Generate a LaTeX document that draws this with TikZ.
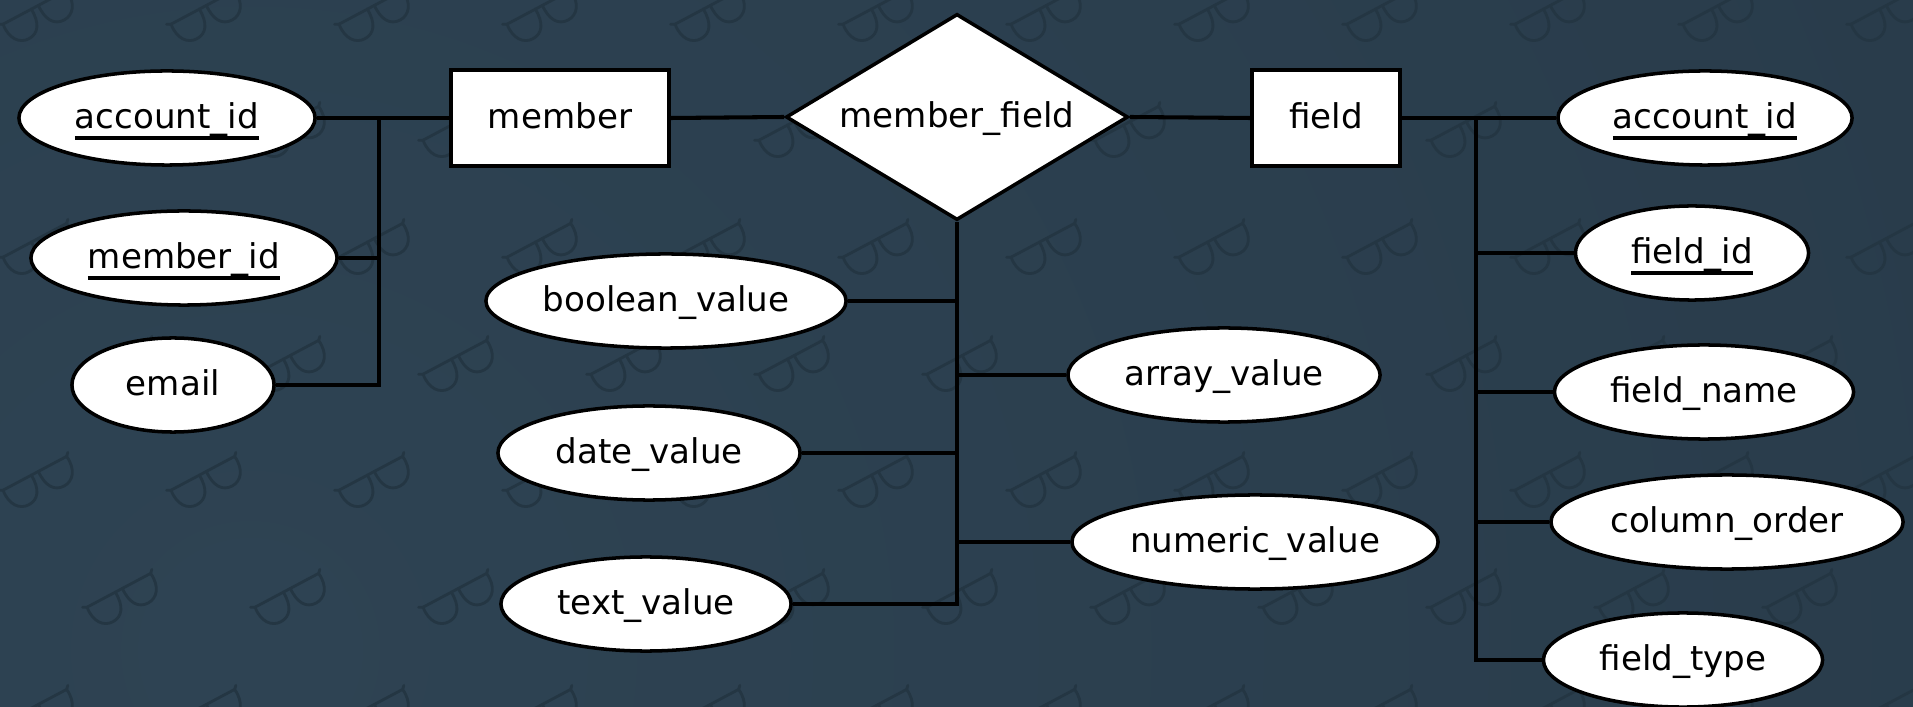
\documentclass[tikz,border=0pt]{standalone}
\usepackage{fontspec}
\setmainfont{DejaVu Sans}
\usetikzlibrary{shapes.geometric}
\definecolor{bgin}{RGB}{46,67,83}
\definecolor{bgout}{RGB}{36,53,67}
\definecolor{glass}{RGB}{36,54,67}
\newcommand\ukey[1]{\setbox0\hbox{#1}\rlap{\smash{\rule[-3.3pt]{\wd0}{1.2pt}}}\box0}
\tikzset{
  lbl/.style={text=black, text height=8pt, text depth=2pt, inner sep=0pt, font=\fontsize{9.7pt}{12pt}\selectfont},
  attr/.style={lbl, ellipse, draw=black, fill=white, line width=1pt, minimum height=0.94cm},
  entity/.style={lbl, rectangle, draw=black, fill=white, line width=1.1pt, minimum height=0.96cm},
  rel/.style={lbl, diamond, draw=black, fill=white, line width=1pt, aspect=1.66, minimum width=3.42cm, minimum height=2.06cm},
  conn/.style={draw=black, line width=1.15pt},
  glassline/.style={draw=glass, line width=0.8pt, line cap=round, line join=round},
}
\begin{document}
\begin{tikzpicture}[x=0.01cm, y=-0.01cm]
\useasboundingbox (0,0) rectangle (1913,707);
% background with pattern
\begin{scope}
  \clip (0,0) rectangle (1913,707);
  \shade[inner color=bgin, outer color=bgout] (250,650) circle (36cm);
  \foreach \gy/\gx in {17/-128, 250/-128, 483/-128, 716/-128, 133/-44, 367/-44, 600/-44}{
    \foreach \k in {0,...,13}{
      \begin{scope}[shift={(\gx+168*\k,\gy)}, rotate=28]
        \draw[glassline] (-40,-13) -- (-36,-11) -- (36,-11) -- (39,-14);
        \draw[glassline] (-36,-11) .. controls (-38,5) and (-30,14) .. (-20,14) .. controls (-9,14) and (-3,5) .. (-4,-11);
        \draw[glassline] (4,-11) .. controls (3,5) and (9,14) .. (20,14) .. controls (30,14) and (38,5) .. (36,-11);
      \end{scope}
    }
  }
\end{scope}

% entities and relationship
\node[entity, minimum width=2.18cm] (member) at (560,118) {member};
\node[rel] (mf) at (957,117) {member\_field};
\node[entity, minimum width=1.48cm] (field) at (1326,118) {field};

% member attributes
\node[attr, minimum width=2.96cm] (la) at (167,118) {\ukey{account\_id}};
\node[attr, minimum width=3.06cm] (lm) at (184,258) {\ukey{member\_id}};
\node[attr, minimum width=2.02cm] (le) at (173,385) {email};

% member_field attributes
\node[attr, minimum width=3.60cm] (bv) at (666,301) {boolean\_value};
\node[attr, minimum width=3.02cm] (dv) at (649,453) {date\_value};
\node[attr, minimum width=2.90cm] (tv) at (646,604) {text\_value};
\node[attr, minimum width=3.12cm] (av) at (1224,375) {array\_value};
\node[attr, minimum width=3.66cm] (nv) at (1255,542) {numeric\_value};

% field attributes
\node[attr, minimum width=2.94cm] (ra) at (1705,118) {\ukey{account\_id}};
\node[attr, minimum width=2.33cm] (fi) at (1692,253) {\ukey{field\_id}};
\node[attr, minimum width=2.99cm] (fn) at (1704,392) {field\_name};
\node[attr, minimum width=3.52cm] (co) at (1727,522) {column\_order};
\node[attr, minimum width=2.79cm] (ft) at (1683,660) {field\_type};

% bus coordinates
\coordinate (lb) at (379,118);
\coordinate (rb) at (1476,118);

% connectors: member side
\draw[conn] (la.east) -- (member.west);
\draw[conn] (lm.east) -- (lm.east -| lb);
\draw[conn] (lb) |- (le.east);

% connectors: relationship
\draw[conn] (member.east) -- (mf.west);
\draw[conn] (mf.east) -- (field.west);
\draw[conn] (mf.south) |- (tv.east);
\draw[conn] (bv.east) -- (bv.east -| mf.south);
\draw[conn] (dv.east) -- (dv.east -| mf.south);
\draw[conn] (av.west) -- (av.west -| mf.south);
\draw[conn] (nv.west) -- (nv.west -| mf.south);

% connectors: field side
\draw[conn] (field.east) -- (ra.west);
\draw[conn] (rb) |- (ft.west);
\draw[conn] (fi.west) -- (fi.west -| rb);
\draw[conn] (fn.west) -- (fn.west -| rb);
\draw[conn] (co.west) -- (co.west -| rb);
\end{tikzpicture}
\end{document}
